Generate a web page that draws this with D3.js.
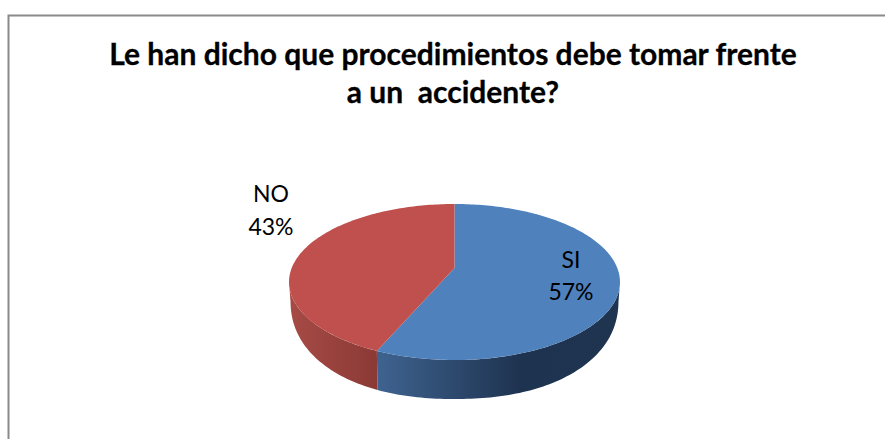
<!DOCTYPE html>
<html><head><meta charset="utf-8">
<script src="https://cdn.jsdelivr.net/npm/d3@7"></script>
<style>html,body{margin:0;padding:0;background:#fff}svg{display:block}</style>
</head><body><svg id="c" width="885" height="439"></svg>
<script>
const categories = ["SI", "NO"];
const values = [13, 10];
const topColors = ["#4f81bd", "#c0504d"];
const sideStops = [
  [[377, "#3f6390"], [520, "#1e3350"], [620, "#1f344f"]],
  [[290, "#a64b46"], [378, "#8b3935"]]
];
const titleLines = ["Le han dicho que procedimientos debe tomar frente", "a un  accidente?"];
const labelPos = [[571, 268, 300], [271, 202, 235]];
const font = "Lato, Carlito, sans-serif";

const svg = d3.select("#c");
const W = 885, H = 439;
svg.append("rect").attr("width", W).attr("height", H).attr("fill", "#fff");
svg.append("path").attr("d", `M8.5 ${H} V15.5 H${W}`).attr("fill", "none").attr("stroke", "#8a8a8a").attr("stroke-width", 2);

svg.selectAll(".t").data(titleLines).join("text").attr("class", "t")
  .attr("x", 453).attr("y", (d, i) => 65 + i * 38)
  .attr("text-anchor", "middle").attr("font-family", font).attr("font-weight", 700)
  .attr("font-size", 30).attr("fill", "#000").attr("stroke", "#000").attr("stroke-width", 0.3)
  .style("white-space", "pre").text(d => d);

const pie = d3.pie().sort(null).value(d => d)(values);
const cx = 454.5, apexY = 268, k = 0.1795, b = 75.5, a = 162.8;
const lowRx = 164, lowCy = 300, lowRy = 99, lowN = 2.2;
const extreme = Math.asin(k);
const proj = (t, low) => {
  const u = Math.sin(t), v = -Math.cos(t), w = 1 - k * v;
  const x = cx + a * u / w, y = apexY + b * v / w;
  if (!low) return [x, y];
  const dx = (x - cx) * lowRx / 165.5;
  const r = Math.min(1, Math.abs(dx) / lowRx);
  return [cx + dx, lowCy + lowRy * Math.pow(1 - Math.pow(r, lowN), 1 / lowN)];
};
const arcPts = (s, e, low) => {
  const n = Math.max(2, Math.ceil((e - s) / 0.02));
  return d3.range(n + 1).map(i => proj(s + (e - s) * i / n, low));
};
const defs = svg.append("defs");
sideStops.forEach((st, i) => {
  const g = defs.append("linearGradient").attr("id", "g" + i).attr("gradientUnits", "userSpaceOnUse")
    .attr("x1", st[0][0]).attr("x2", st[st.length - 1][0]).attr("y1", 0).attr("y2", 0);
  st.forEach(s => g.append("stop").attr("offset", (s[0] - st[0][0]) / (st[st.length - 1][0] - st[0][0])).attr("stop-color", s[1]));
});
const line = d3.line();
const front = pie.map(d => ({
  s: Math.max(d.startAngle, Math.PI / 2 + extreme),
  e: Math.min(d.endAngle, 3 * Math.PI / 2 - extreme)
}));
svg.selectAll(".side").data(front).join("path").attr("class", "side")
  .attr("fill", (d, i) => `url(#g${i})`)
  .attr("d", d => line([...arcPts(d.s, d.e, false), ...arcPts(d.s, d.e, true).reverse()]) + "Z");
svg.selectAll(".top").data(pie).join("path").attr("class", "top")
  .attr("fill", (d, i) => topColors[i])
  .attr("d", d => line([[cx, apexY], ...arcPts(d.startAngle, d.endAngle, false)]) + "Z");

const fmt = d3.format(".0%");
const total = d3.sum(values);
categories.forEach((c, i) => {
  const [x, y1, y2] = labelPos[i];
  [[c, y1], [fmt(values[i] / total), y2]].forEach(([t, y]) =>
    svg.append("text").attr("x", x).attr("y", y).attr("text-anchor", "middle")
      .attr("font-family", font).attr("font-size", 23).attr("fill", "#000").text(t));
});
</script></body></html>
